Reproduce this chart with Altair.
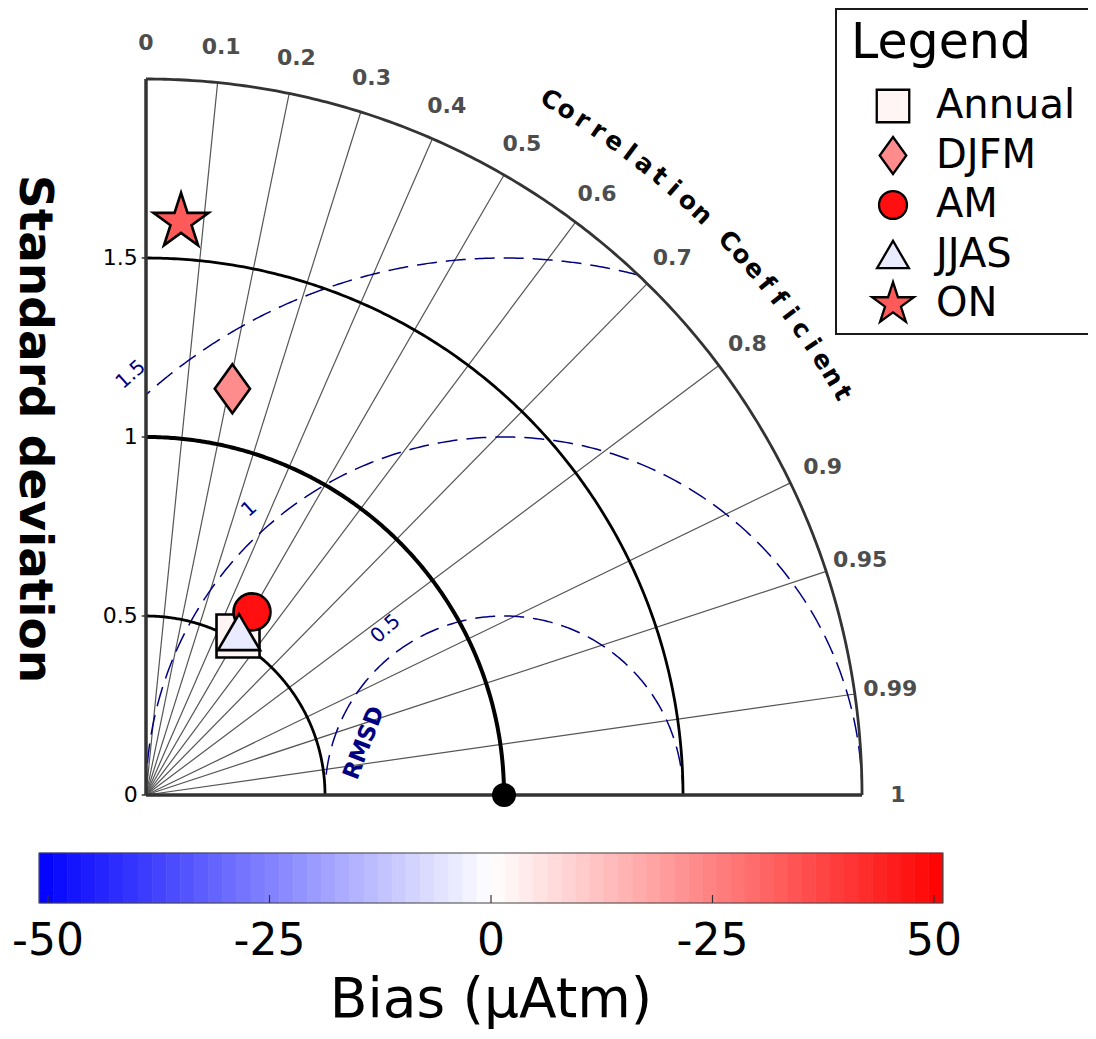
import numpy as np
import pandas as pd
import altair as alt

# ---------------- data ----------------
series = ["Annual", "DJFM", "AM", "JJAS", "ON"]
std_dev = [0.513, 1.160, 0.591, 0.524, 1.604]
corr_coef = [0.501, 0.208, 0.501, 0.496, 0.061]
bias = [2, 23, 48, -4, 33]
ref_std = 1.0

corr_ticks = [0.0, 0.1, 0.2, 0.3, 0.4, 0.5, 0.6, 0.7, 0.8, 0.9, 0.95, 0.99, 1.0]
corr_labels = ["0", "0.1", "0.2", "0.3", "0.4", "0.5", "0.6", "0.7", "0.8", "0.9", "0.95", "0.99", "1"]
std_ticks = [0.0, 0.5, 1.0, 1.5]
std_labels = ["0", "0.5", "1", "1.5"]
std_arcs = [0.5, 1.0, 1.5, 2.0]
rmsd_levels = [0.5, 1.0, 1.5]
rmsd_labels = ["0.5", "1", "1.5"]
cbar_ticks = [-50, -25, 0, 25, 50]
cbar_labels = ["-50", "-25", "0", "-25", "50"]
bias_range = [-51, 51]
n_bands = 64

y_title = "Standard deviation"
corr_title = "Correlation Coefficient"
rmsd_title = "RMSD"
cbar_title = "Bias (µAtm)"
legend_title = "Legend"

# ---------------- layout ----------------
W, H = 1080, 1023
OX, OY = 138, 787          # origin of the diagram in view pixels
UNIT = 358                 # pixels per std-dev unit
X_DOM = [-OX / UNIT, (W - OX) / UNIT]
Y_DOM = [(OY - H) / UNIT, OY / UNIT]
B0, BPX = 483, 8.86        # bias 0 location and px per bias unit
B_DOM = [-B0 / BPX, (W - B0) / BPX]
R_MAX = std_arcs[-1]
FONT = "DejaVu Sans"

xs = alt.Scale(domain=X_DOM, nice=False, zero=False)
ys = alt.Scale(domain=Y_DOM, nice=False, zero=False)
bs = alt.Scale(domain=B_DOM, nice=False, zero=False)


def X(f):
    return alt.X(f, type="quantitative", scale=xs, axis=None)


def Y(f):
    return alt.Y(f, type="quantitative", scale=ys, axis=None)


def BX(f):
    return alt.X(f, type="quantitative", scale=bs, axis=None)


def bwr(b):
    lo, hi = bias_range
    t = (b - lo) / (hi - lo)
    t = min(max(t, 0.0), 1.0)
    if t < 0.5:
        r = g = 2 * t
        bl = 1.0
    else:
        r = 1.0
        g = bl = 2 * (1 - t)
    return "#%02x%02x%02x" % (round(r * 255), round(g * 255), round(bl * 255))


# ---------------- frames ----------------
pts = pd.DataFrame({"series": series, "std": std_dev, "corr": corr_coef, "bias": bias})
pts["x"] = pts["std"] * pts["corr"]
pts["y"] = pts["std"] * np.sqrt(1 - pts["corr"] ** 2)
fill_colors = [bwr(b) for b in bias]

shape_paths = [
    "M-1,-1L1,-1L1,1L-1,1Z",
    "M0,-1.14L0.82,0L0,1.14L-0.82,0Z",
    "M0.86,0A0.86,0.86,0,1,1,-0.86,0A0.86,0.86,0,1,1,0.86,0Z",
    "M0,-0.84L0.98,0.84L-0.98,0.84Z",
    "M0,-1.35L-0.303,-0.417L-1.284,-0.417L-0.49,0.159L-0.794,1.092L0,0.516L0.794,1.092L0.49,0.159L1.284,-0.417L0.303,-0.417Z",
]
shape_scale = alt.Scale(domain=series, range=shape_paths)
fill_scale = alt.Scale(domain=series, range=fill_colors)

rad = pd.DataFrame({"c": [c for c in corr_ticks if 0 < c < 1]})
rad["x"] = 0.0
rad["y"] = 0.0
rad["x2"] = R_MAX * rad["c"]
rad["y2"] = R_MAX * np.sqrt(1 - rad["c"] ** 2)

th = np.linspace(0, 90, 241)
arc_rows = []
for r in std_arcs:
    for i, t in enumerate(th):
        arc_rows.append({"r": r, "i": i, "x": r * np.cos(np.deg2rad(t)), "y": r * np.sin(np.deg2rad(t))})
arcs = pd.DataFrame(arc_rows)

rm_rows = []
for R in rmsd_levels:
    cmax = min(1.0, (R_MAX ** 2 - ref_std ** 2 - R ** 2) / (2 * ref_std * R))
    cmin = max(-1.0, -ref_std / R)
    p0, p1 = np.degrees(np.arccos(cmax)), np.degrees(np.arccos(cmin))
    for i, p in enumerate(np.linspace(p0, p1, 300)):
        rm_rows.append({"R": R, "i": i,
                        "x": ref_std + R * np.cos(np.deg2rad(p)),
                        "y": R * np.sin(np.deg2rad(p))})
rmsd = pd.DataFrame(rm_rows)

axes_df = pd.DataFrame({"x": [0, 0], "y": [0, 0], "x2": [0, R_MAX], "y2": [R_MAX, 0]})
yt = pd.DataFrame({"y": std_ticks, "lab": std_labels})
yt["x"] = -0.012
yt["x2"] = 0.0
yt["xl"] = -0.023

LBL_R = 2.1
cl = pd.DataFrame({"c": corr_ticks, "lab": corr_labels})
cl["x"] = LBL_R * cl["c"]
cl["y"] = LBL_R * np.sqrt(1 - cl["c"] ** 2)

CT_R, CT_START, CT_STEP = 2.246, 59.8, 1.355
ct_th = [CT_START - CT_STEP * k for k in range(len(corr_title))]
ct = pd.DataFrame({"ch": list(corr_title), "th": ct_th})
ct["x"] = CT_R * np.cos(np.deg2rad(ct["th"]))
ct["y"] = CT_R * np.sin(np.deg2rad(ct["th"]))
ct["ang"] = (90 - ct["th"]) % 360

RL_PHI = [125.5, 131.7, 131.6]
RL_OFF = 0.07
rl = pd.DataFrame({"R": rmsd_levels, "lab": rmsd_labels, "phi": RL_PHI})
rl["x"] = ref_std + (rl["R"] + RL_OFF) * np.cos(np.deg2rad(rl["phi"]))
rl["y"] = (rl["R"] + RL_OFF) * np.sin(np.deg2rad(rl["phi"]))

RT_D, RT_PHI = 0.417, 159.6
rt = pd.DataFrame({"lab": [rmsd_title],
                   "x": [ref_std + RT_D * np.cos(np.deg2rad(RT_PHI))],
                   "y": [RT_D * np.sin(np.deg2rad(RT_PHI))]})

ref_df = pd.DataFrame({"x": [ref_std], "y": [0.0]})

edges = np.linspace(bias_range[0], bias_range[1], n_bands + 1)
bands = pd.DataFrame({"lo": edges[:-1], "hi": edges[1:]})
bands["mid"] = (bands["lo"] + bands["hi"]) / 2
cb_box = pd.DataFrame({"lo": [bias_range[0]], "hi": [bias_range[1]]})
cb_t = pd.DataFrame({"b": cbar_ticks, "lab": cbar_labels})
cb_title = pd.DataFrame({"b": [0], "lab": [cbar_title]})
yt_title = pd.DataFrame({"lab": [y_title]})
leg_df = pd.DataFrame({"series": series})
leg_title_df = pd.DataFrame({"lab": [legend_title]})

# ---------------- layers ----------------
l_rad = alt.Chart(rad).mark_rule(color="#555555", strokeWidth=1.2).encode(
    x=X("x"), y=Y("y"), x2="x2", y2="y2")

l_rmsd = alt.Chart(rmsd).mark_line(color="#000080", strokeWidth=1.5, strokeDash=[20, 9]).encode(
    x=X("x"), y=Y("y"), detail="R:N", order="i:Q")

l_arc_thin = alt.Chart(arcs[arcs["r"].isin([0.5, 1.5])]).mark_line(color="black", strokeWidth=2.8).encode(
    x=X("x"), y=Y("y"), detail="r:N", order="i:Q")
l_arc_ref = alt.Chart(arcs[arcs["r"] == ref_std]).mark_line(color="black", strokeWidth=4).encode(
    x=X("x"), y=Y("y"), detail="r:N", order="i:Q")
l_arc_out = alt.Chart(arcs[arcs["r"] == R_MAX]).mark_line(color="#333333", strokeWidth=2.8).encode(
    x=X("x"), y=Y("y"), detail="r:N", order="i:Q")

l_axes = alt.Chart(axes_df).mark_rule(color="#333333", strokeWidth=3.5).encode(
    x=X("x"), y=Y("y"), x2="x2", y2="y2")

l_yticks = alt.Chart(yt).mark_rule(color="#333333", strokeWidth=1.5).encode(
    x=X("x"), x2="x2", y=Y("y"))
l_ylabels = alt.Chart(yt).mark_text(font=FONT, fontSize=22, align="right", baseline="middle", color="black").encode(
    x=X("xl"), y=Y("y"), text="lab:N")

l_clabels = alt.Chart(cl).mark_text(font=FONT, fontSize=22, fontWeight="bold", color="#4d4d4d",
                                     align="center", baseline="middle").encode(
    x=X("x"), y=Y("y"), text="lab:N")

l_ctitle = alt.Chart(ct).mark_text(font=FONT, fontSize=25, fontWeight="bold", color="black",
                                    align="center", baseline="middle").encode(
    x=X("x"), y=Y("y"), text="ch:N", angle=alt.Angle("ang:Q", scale=None))

l_rlabels = alt.Chart(rl).mark_text(font=FONT, fontSize=20, color="#000080", angle=318,
                                     align="center", baseline="middle").encode(
    x=X("x"), y=Y("y"), text="lab:N")
l_rtitle = alt.Chart(rt).mark_text(font=FONT, fontSize=23, fontWeight="bold", color="#000080", angle=291,
                                    align="center", baseline="middle").encode(
    x=X("x"), y=Y("y"), text="lab:N")

l_ref = alt.Chart(ref_df).mark_point(filled=True, color="black", opacity=1, size=576, shape="circle").encode(
    x=X("x"), y=Y("y"))

l_pts = alt.Chart(pts).mark_point(filled=True, stroke="black", strokeWidth=2.6, opacity=1, size=1849).encode(
    x=X("x"), y=Y("y"),
    shape=alt.Shape("series:N", scale=shape_scale, legend=None),
    fill=alt.Fill("series:N", scale=fill_scale, legend=None),
)

# legend (drawn from the same shape / fill scales, rows placed by a point scale)
leg_rows = alt.Scale(type="point", domain=series, range=[98, 296], padding=0)
l_leg_box = alt.Chart(leg_title_df).mark_rect(fill="white", stroke="#1a1a1a", strokeWidth=2).encode(
    x=alt.value(828), x2=alt.value(1086), y=alt.value(1), y2=alt.value(326))
l_leg_title = alt.Chart(leg_title_df).mark_text(font=FONT, fontSize=49, color="black", align="left",
                                                 baseline="alphabetic").encode(
    x=alt.value(843), y=alt.value(50), text="lab:N")
l_leg_sym = alt.Chart(leg_df).mark_point(filled=True, stroke="black", strokeWidth=2.3, opacity=1, size=1056).encode(
    x=alt.value(885), y=alt.Y("series:N", scale=leg_rows, axis=None),
    shape=alt.Shape("series:N", scale=shape_scale, legend=None),
    fill=alt.Fill("series:N", scale=fill_scale, legend=None))
l_leg_lab = alt.Chart(leg_df).mark_text(font=FONT, fontSize=40, color="black", align="left",
                                         baseline="middle").encode(
    x=alt.value(928), y=alt.Y("series:N", scale=leg_rows, axis=None), text="series:N")

cmap = alt.Scale(domain=[bias_range[0], 0, bias_range[1]], range=["#0000ff", "#ffffff", "#ff0000"],
                 interpolate="rgb")
l_bands = alt.Chart(bands).mark_rect(strokeWidth=0.6).encode(
    x=BX("lo"), x2="hi", y=alt.value(845), y2=alt.value(895),
    fill=alt.Fill("mid:Q", scale=cmap, legend=None),
    stroke=alt.Stroke("mid:Q", scale=cmap, legend=None))
l_cbox = alt.Chart(cb_box).mark_rect(fillOpacity=0, stroke="#444444", strokeWidth=1.2).encode(
    x=BX("lo"), x2="hi", y=alt.value(845), y2=alt.value(895))
l_cticks = alt.Chart(cb_t).mark_rule(color="#333333", strokeWidth=1.2).encode(
    x=BX("b"), y=alt.value(887), y2=alt.value(895))
l_clab = alt.Chart(cb_t).mark_text(font=FONT, fontSize=44, color="black", align="center", baseline="alphabetic").encode(
    x=BX("b"), y=alt.value(947), text="lab:N")
l_ctit = alt.Chart(cb_title).mark_text(font=FONT, fontSize=55, color="black", align="center", baseline="alphabetic").encode(
    x=BX("b"), y=alt.value(1009), text="lab:N")

l_ytitle = alt.Chart(yt_title).mark_text(font=FONT, fontSize=47, fontWeight="bold", color="black", angle=90,
                                          align="center", baseline="middle").encode(
    x=alt.value(26), y=alt.value(421), text="lab:N")

chart = alt.layer(
    l_rad, l_rmsd, l_arc_thin, l_arc_ref, l_arc_out, l_axes, l_yticks, l_ylabels,
    l_clabels, l_ctitle, l_rlabels, l_rtitle, l_ref, l_pts,
    l_leg_box, l_leg_title, l_leg_sym, l_leg_lab,
    l_bands, l_cbox, l_cticks, l_clab, l_ctit, l_ytitle,
).resolve_scale(
    x="independent", y="independent", fill="independent", stroke="independent"
).properties(
    width=W, height=H, autosize=alt.AutoSizeParams(type="none"), padding=0
).configure_view(stroke=None)

chart.save("out.html", embed_options={"renderer": "svg", "actions": False})
